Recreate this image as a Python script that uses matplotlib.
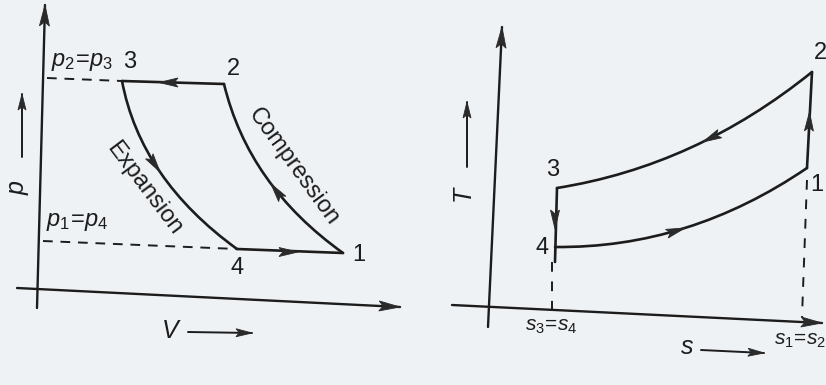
import numpy as np
import matplotlib
matplotlib.use("Agg")
import matplotlib.pyplot as plt
from matplotlib.path import Path
from matplotlib.patches import PathPatch, Polygon

plt.rcParams['font.family'] = ['Liberation Sans', 'DejaVu Sans']
plt.rcParams['mathtext.fontset'] = 'custom'
plt.rcParams['mathtext.rm'] = 'Liberation Sans'
plt.rcParams['mathtext.it'] = 'Liberation Sans:italic'

INK = '#1c1c1c'
PAPER = '#eff2f5'

# p-V diagram: state points (canvas px) and curve control points
pv_states = {1: (343, 253), 2: (224, 84), 3: (122, 81), 4: (237, 249)}
pv_expansion_ctrl = (140.5, 179)    # 3 -> 4
pv_compression_ctrl = (248.5, 185.5)  # 2 -> 1 (drawn reversed)
pv_p23_start = (47, 78)
pv_p14_start = (43, 241)
pv_vaxis = [(37, 308), (45, 5)]
pv_haxis = [(17, 288), (400, 307)]

# T-s diagram
ts_states = {1: (807, 168), 2: (812, 72), 3: (557, 188), 4: (555, 247)}
ts_upper_ctrl = (695.5, 166)   # 3 -> 2
ts_lower_ctrl = (689, 248.5)   # 4 -> 1
ts_vaxis = [(488, 327), (502, 27)]
ts_haxis = [(452, 305), (822, 323)]
ts_s34_foot = (552, 310)
ts_s12_foot = (802, 317)


def bez(p0, c, p2, t):
    p0, c, p2 = map(np.asarray, (p0, c, p2))
    pt = (1 - t) ** 2 * p0 + 2 * (1 - t) * t * c + t ** 2 * p2
    d = 2 * (1 - t) * (c - p0) + 2 * t * (p2 - c)
    return pt, d


def curve(ax, p0, c, p2, lw=1.9):
    path = Path([p0, c, p2], [Path.MOVETO, Path.CURVE3, Path.CURVE3])
    ax.add_patch(PathPatch(path, fc='none', ec=INK, lw=lw, capstyle='round'))


def head(ax, tip, direction, length=19, width=9, color='#2a2a2a'):
    d = np.asarray(direction, float)
    d /= np.hypot(*d)
    n = np.array([-d[1], d[0]])
    tip = np.asarray(tip, float)
    base = tip - d * length
    pts = [tip, base + n * width / 2, base + d * length * 0.2, base - n * width / 2]
    ax.add_patch(Polygon(pts, closed=True, fc=color, ec=color, lw=0.6, zorder=5))


def line(ax, a, b, lw=1.9, ls='-', color=INK):
    ax.plot([a[0], b[0]], [a[1], b[1]], color=color, lw=lw, ls=ls,
            solid_capstyle='round', dash_capstyle='butt')


def axis_arrow(ax, a, b, lw=1.7, length=21, width=10):
    line(ax, a, b, lw=lw)
    head(ax, b, (b[0] - a[0], b[1] - a[1]), length=length, width=width)


fig = plt.figure(figsize=(8.26, 3.85), dpi=100)
fig.patch.set_facecolor(PAPER)
ax = fig.add_axes([0, 0, 1, 1])
ax.set_xlim(0, 826)
ax.set_ylim(385, 0)
ax.axis('off')

# ---- p-V ----
axis_arrow(ax, *pv_vaxis)
axis_arrow(ax, *pv_haxis)
line(ax, pv_p23_start, pv_states[3], lw=1.4, ls=(0, (5, 4)))
line(ax, pv_p14_start, pv_states[4], lw=1.4, ls=(0, (5, 4)))
line(ax, pv_states[3], pv_states[2])
line(ax, pv_states[4], pv_states[1])
curve(ax, pv_states[3], pv_expansion_ctrl, pv_states[4])
curve(ax, pv_states[2], pv_compression_ctrl, pv_states[1])

head(ax, (159, 82.5), (-1, 0))
head(ax, (298, 252), (1, 0))
pt, d = bez(pv_states[3], pv_expansion_ctrl, pv_states[4], 0.5)
head(ax, pt, d)
pt, d = bez(pv_states[2], pv_compression_ctrl, pv_states[1], 0.54)
head(ax, pt, -d)

num = dict(fontsize=17, color=INK, ha='center', va='center')
ax.text(130, 62, '3', **num)
ax.text(233, 69, '2', **num)
ax.text(237, 268, '4', **num)
ax.text(359, 255, '1', **num)
ax.text(82, 62, r'$p_2\!=\!p_3$', fontsize=17, color=INK, ha='center', va='center')
ax.text(77, 222, r'$p_1\!=\!p_4$', fontsize=17, color=INK, ha='center', va='center')
ax.text(144, 188, 'Expansion', fontsize=17, color=INK, rotation=-53,
        ha='center', va='center', rotation_mode='anchor')
ax.text(294, 167, 'Compression', fontsize=17, color=INK, rotation=-54,
        ha='center', va='center', rotation_mode='anchor')

ax.text(18, 188, 'p', fontsize=18, style='italic', rotation=90, color=INK,
        ha='center', va='center')
axis_arrow(ax, (22, 157), (22, 94), lw=1.4, length=16, width=8)
ax.text(170, 331, 'V', fontsize=18, style='italic', color=INK, ha='center', va='center')
axis_arrow(ax, (188, 332), (252, 333), lw=1.4, length=16, width=8)

# ---- T-s ----
axis_arrow(ax, *ts_vaxis)
axis_arrow(ax, *ts_haxis)
line(ax, (552, 262), ts_s34_foot, lw=1.4, ls=(0, (5, 5)))
line(ax, (807, 180), ts_s12_foot, lw=1.4, ls=(0, (5, 5)))
line(ax, ts_states[3], (555, 262))
line(ax, ts_states[1], ts_states[2])
curve(ax, ts_states[3], ts_upper_ctrl, ts_states[2])
curve(ax, ts_states[4], ts_lower_ctrl, ts_states[1])

head(ax, (555, 229), (0, 1))
head(ax, (809.5, 112), (0.03, -1))
pt, d = bez(ts_states[3], ts_upper_ctrl, ts_states[2], 0.55)
head(ax, pt, -d)
pt, d = bez(ts_states[4], ts_lower_ctrl, ts_states[1], 0.5)
head(ax, pt, d)

ax.text(820, 53, '2', **num)
ax.text(817, 185, '1', **num)
ax.text(553, 170, '3', **num)
ax.text(542, 248, '4', **num)
ax.text(551, 327, r'$s_3\!=\!s_4$', fontsize=15, color=INK, ha='center', va='center')
ax.text(800, 340, r'$s_1\!=\!s_2$', fontsize=15, color=INK, ha='center', va='center')

ax.text(463, 193, 'T', fontsize=18, style='italic', rotation=90, color=INK,
        ha='center', va='center')
axis_arrow(ax, (467, 167), (467, 102), lw=1.4, length=16, width=8)
ax.text(687, 347, 's', fontsize=18, style='italic', color=INK, ha='center', va='center')
axis_arrow(ax, (701, 350), (764, 353), lw=1.4, length=16, width=8)

fig.savefig('out.png', dpi=100, facecolor=PAPER)
